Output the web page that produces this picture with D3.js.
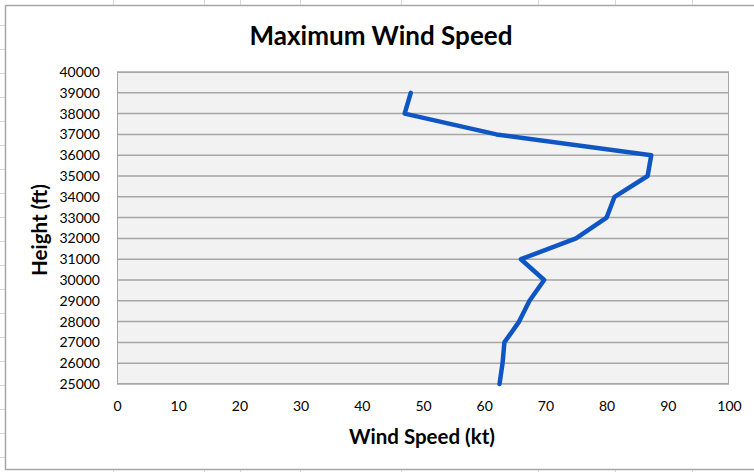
<!DOCTYPE html>
<html>
<head>
<meta charset="utf-8">
<script src="https://cdn.jsdelivr.net/npm/d3@7"></script>
<style>
  html, body { margin: 0; padding: 0; background: #ffffff; }
  svg { display: block; }
  text { font-family: Lato, "Open Sans", sans-serif; fill: #000; }
</style>
</head>
<body>
<svg id="chart" width="754" height="472"></svg>
<script>
// Height levels (ft) and the maximum wind speed (kt) observed at each
const heights = [25000, 26000, 27000, 28000, 29000, 30000, 31000, 32000,
                 33000, 34000, 35000, 36000, 37000, 38000, 39000];
const windSpeed = [62.5, 63, 63.3, 65.7, 67.4, 69.8, 66, 75,
                   80, 81.3, 86.7, 87.3, 62, 47, 48];

const xTicks = [0, 10, 20, 30, 40, 50, 60, 70, 80, 90, 100];
const yTicks = d3.range(25000, 40001, 1000);

const chartTitle = "Maximum Wind Speed";
const xTitle = "Wind Speed (kt)";
const yTitle = "Height (ft)";

const svg = d3.select("#chart");
const W = 754, H = 472;

// Spreadsheet cell grid visible around the chart object
const sheet = svg.append("g").attr("stroke", "#d9d9d9").attr("stroke-width", 1);
[113, 204, 240, 300, 401, 538, 615, 692].forEach(x => {
  sheet.append("line").attr("x1", x + 0.5).attr("x2", x + 0.5).attr("y1", 0).attr("y2", 5);
  sheet.append("line").attr("x1", x + 0.5).attr("x2", x + 0.5).attr("y1", 470).attr("y2", H);
});
d3.range(25, H, 24).forEach(y => {
  sheet.append("line").attr("x1", 0).attr("x2", 5).attr("y1", y + 0.5).attr("y2", y + 0.5);
});

// Chart object frame
svg.append("rect")
  .attr("x", 5.5).attr("y", 5.5).attr("width", W + 10).attr("height", 464)
  .attr("fill", "#fff").attr("stroke", "#a6a6a6").attr("stroke-width", 1.5);

const plot = { left: 117, right: 729, top: 72, bottom: 384 };

const x = d3.scaleLinear().domain([0, 100]).range([plot.left, plot.right]);
const y = d3.scaleLinear().domain([25000, 40000]).range([plot.bottom, plot.top]);

// Plot area background
svg.append("rect")
  .attr("x", plot.left).attr("y", plot.top)
  .attr("width", plot.right - plot.left).attr("height", plot.bottom - plot.top)
  .attr("fill", "#f2f2f2");

// Horizontal gridlines
svg.append("g")
  .selectAll("line").data(yTicks).join("line")
  .attr("x1", plot.left).attr("x2", plot.right)
  .attr("y1", d => y(d)).attr("y2", d => y(d))
  .attr("stroke", "#a6a6a6").attr("stroke-width", 1.5);

// Plot area border
svg.append("rect")
  .attr("x", plot.left + 0.5).attr("y", plot.top + 0.5)
  .attr("width", plot.right - plot.left - 1).attr("height", plot.bottom - plot.top - 1)
  .attr("fill", "none").attr("stroke", "#a6a6a6").attr("stroke-width", 1);

// Y axis labels
const yAxis = svg.append("g")
  .attr("transform", `translate(${plot.left},0)`)
  .call(d3.axisLeft(y).tickValues(yTicks).tickFormat(d3.format("d")).tickSize(0).tickPadding(17));
yAxis.select(".domain").remove();
yAxis.selectAll("text")
  .style("font-family", "Lato, 'Open Sans', sans-serif")
  .style("font-size", "14px").attr("fill", "#000");

// X axis labels
const xAxis = svg.append("g")
  .attr("transform", `translate(0,${plot.bottom})`)
  .call(d3.axisBottom(x).tickValues(xTicks).tickFormat(d3.format("d")).tickSize(0).tickPadding(17));
xAxis.select(".domain").remove();
xAxis.selectAll("text")
  .style("font-family", "Lato, 'Open Sans', sans-serif")
  .style("font-size", "14px").attr("fill", "#000");

// Wind speed profile
const pts = heights.map((h, i) => ({ h, v: windSpeed[i] }));
svg.append("path")
  .datum(pts)
  .attr("d", d3.line().x(d => x(d.v)).y(d => y(d.h)))
  .attr("fill", "none")
  .attr("stroke", "#0f56c5")
  .attr("stroke-width", 4.5)
  .attr("stroke-linejoin", "round")
  .attr("stroke-linecap", "round");

// Titles
svg.append("text")
  .attr("x", 381).attr("y", 45)
  .attr("text-anchor", "middle")
  .style("font-size", "26px").style("font-weight", "bold")
  .text(chartTitle);

svg.append("text")
  .attr("x", 422).attr("y", 444)
  .attr("text-anchor", "middle")
  .style("font-size", "20.5px").style("font-weight", "bold")
  .text(xTitle);

svg.append("text")
  .attr("transform", `translate(47,230) rotate(-90)`)
  .attr("text-anchor", "middle")
  .style("font-size", "20.5px").style("font-weight", "bold")
  .text(yTitle);
</script>
</body>
</html>
